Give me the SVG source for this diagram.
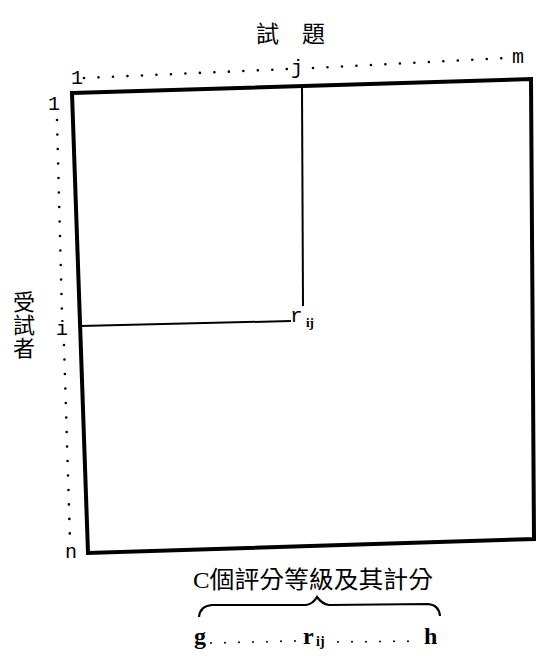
<svg xmlns="http://www.w3.org/2000/svg" width="539" height="660" viewBox="0 0 539 660">
<style>
.mono{font-family:"Liberation Mono","DejaVu Sans Mono",monospace;fill:#000}
.cjk{font-family:"Noto Sans CJK TC","Noto Sans CJK SC",sans-serif;fill:#000}
.ser{font-family:"Liberation Serif","Noto Sans CJK TC",serif;fill:#000}
.dots{fill:none;stroke:#000;stroke-width:2.6;stroke-linecap:round;stroke-dasharray:0 14.5}
.thin{fill:none;stroke:#000;stroke-width:2}
</style>
<rect width="539" height="660" fill="#fff"/>
<g id="title"><text class="cjk" x="256" y="42" font-size="23">試</text><text class="cjk" x="302" y="42" font-size="23">題</text></g>
<g id="side-label"><text class="cjk" x="24" y="291" font-size="22" style="writing-mode:vertical-rl" letter-spacing="1">受試者</text></g>
<g id="matrix"><polygon points="72,93 531,79 534,539 88,553" fill="none" stroke="#000" stroke-width="4" stroke-linejoin="miter"/></g>
<g id="top-axis">
<text class="mono" x="71" y="84" font-size="20">1</text>
<text class="mono" x="291" y="74" font-size="20">j</text>
<text class="mono" x="512" y="63" font-size="20">m</text>
</g>
<g id="left-axis">
<text class="mono" x="48" y="110" font-size="20">1</text>
<text class="mono" x="56" y="335" font-size="20">i</text>
<text class="mono" x="65" y="558" font-size="20">n</text>
</g>
<g id="connectors">
<path class="dots" d="M84,78 L289,69"/>
<path class="dots" d="M313,68 L505,58"/>
<path class="dots" d="M57,120 L62,314"/>
<path class="dots" d="M64,345 L70,540"/>
<path class="thin" d="M302,87 L303,306"/>
<path class="thin" d="M80,326 L291,321"/>
<path fill="none" stroke="#000" stroke-width="2.2" d="M199,617 Q200,606 212,605 L306,605 Q313,604 317,597 Q322,604 329,605 L428,604 Q439,605 440,616"/>
</g>
<g id="rij"><text class="mono" x="290" y="322" font-size="21">r</text><text class="ser" x="306" y="327" font-size="13" font-weight="bold">ij</text></g>
<g id="scale-label"><text class="ser" x="193" y="588" font-size="24" textLength="240" lengthAdjust="spacingAndGlyphs">C個評分等級及其計分</text></g>
<g id="scale">
<text class="ser" x="194" y="644" font-size="24" font-weight="bold">g</text>
<path class="dots" d="M211,643 L297,641" style="stroke-width:2;stroke-dasharray:0 14"/>
<text class="ser" x="303" y="644" font-size="24" font-weight="bold">r</text>
<text class="ser" x="316" y="646" font-size="14" font-weight="bold">ij</text>
<path class="dots" d="M338,642 L420,641" style="stroke-width:2;stroke-dasharray:0 14"/>
<text class="ser" x="424" y="644" font-size="24" font-weight="bold">h</text>
</g>
</svg>
